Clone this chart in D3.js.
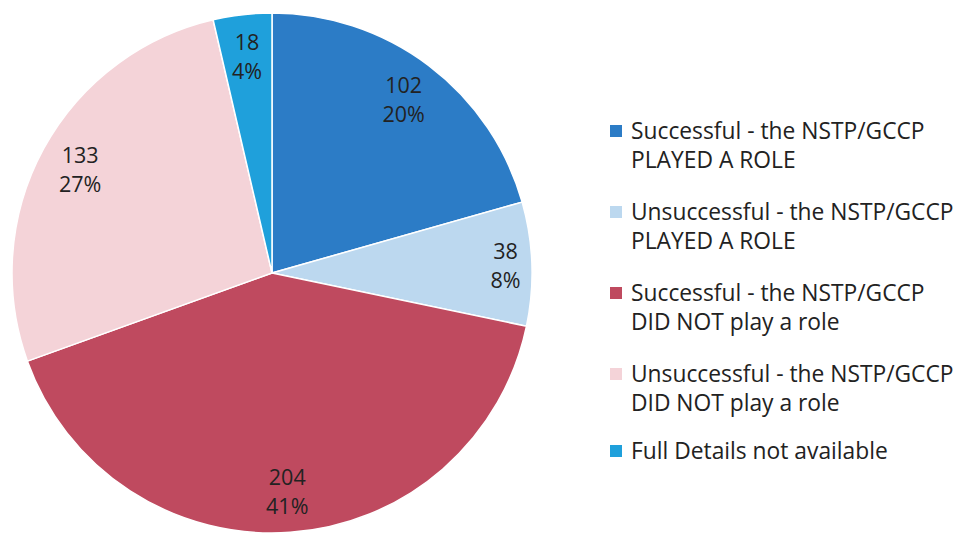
<!DOCTYPE html>
<html><head><meta charset="utf-8">
<script src="https://cdn.jsdelivr.net/npm/d3@7"></script>
<style>body{margin:0;background:#fff}svg{display:block}</style>
</head><body>
<script>
const categories = [
  ["Successful - the NSTP/GCCP", "PLAYED A ROLE"],
  ["Unsuccessful - the NSTP/GCCP", "PLAYED A ROLE"],
  ["Successful - the NSTP/GCCP", "DID NOT play a role"],
  ["Unsuccessful - the NSTP/GCCP", "DID NOT play a role"],
  ["Full Details not available"]
];
const values = [102, 38, 204, 133, 18];
const percents = ["20%", "8%", "41%", "27%", "4%"];
const colors = ["#2c7cc6", "#bcd8ef", "#bf4a5f", "#f4d3d8", "#1fa0db"];

const W = 962, H = 534;
const svg = d3.select("body").append("svg").attr("width", W).attr("height", H);
const font = "'Open Sans', Lato, sans-serif";
const cx = 272, cy = 273, R = 260;

const pie = d3.pie().sort(null).value(d => d)(values);
const arc = d3.arc().innerRadius(0).outerRadius(R);
const g = svg.append("g").attr("transform", `translate(${cx},${cy})`);
g.selectAll("path").data(pie).join("path")
  .attr("d", arc).attr("fill", (d, i) => colors[i])
  .attr("stroke", "#fff").attr("stroke-width", 1.5);

const labelArc = d3.arc().innerRadius(R * 0.84).outerRadius(R * 0.84);
const lab = g.selectAll("text.lab").data(pie).join("text").attr("class", "lab")
  .attr("transform", d => {
    const [x, y] = labelArc.centroid(d);
    const k = d.endAngle - d.startAngle < 0.6 && d.startAngle < Math.PI ? 1.07 : 1;
    return `translate(${x * k},${y * k})`;
  })
  .attr("text-anchor", "middle").attr("font-family", font).attr("font-size", 21.5)
  .attr("fill", "#222");
lab.append("tspan").attr("x", 0).attr("y", -6).text(d => d.data);
lab.append("tspan").attr("x", 0).attr("y", 23).text((d, i) => percents[i]);

const legY = [139, 220, 301, 382, 459];
const leg = svg.append("g");
categories.forEach((lines, i) => {
  leg.append("rect").attr("x", 610).attr("y", legY[i] - 14).attr("width", 12).attr("height", 12)
    .attr("fill", colors[i]);
  lines.forEach((t, j) => {
    leg.append("text").attr("x", 631).attr("y", legY[i] + j * 29)
      .attr("font-family", font).attr("font-size", 22.8).attr("fill", "#222").text(t);
  });
});
</script>
</body></html>
